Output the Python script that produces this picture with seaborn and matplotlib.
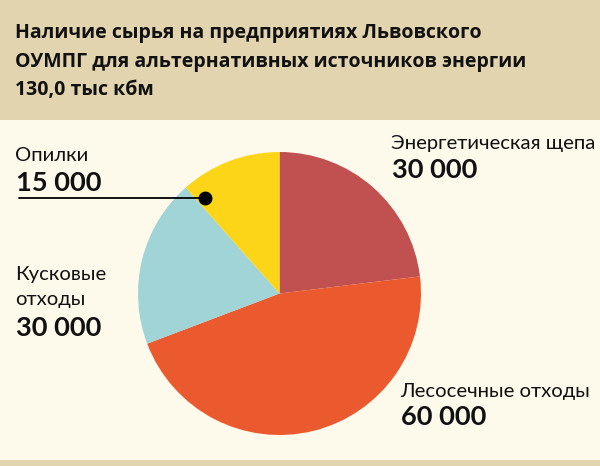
import matplotlib
matplotlib.use("Agg")
import matplotlib.pyplot as plt
import seaborn as sns
from matplotlib.patches import Rectangle

# Data
categories = ["Энергетическая щепа", "Лесосечные отходы", "Кусковые\nотходы", "Опилки"]
values = [30000, 60000, 25000, 15000]  # slice sizes as drawn (total 130 000)
value_labels = ["30 000", "60 000", "30 000", "15 000"]
colors = ["#c05150", "#eb5a2f", "#a0d4d7", "#fdd518"]
title = "Наличие сырья на предприятиях Львовского\nОУМПГ для альтернативных источников энергии\n130,0 тыс кбм"

W, H = 600, 466
sns.set_theme(style="white")
plt.rcParams["font.family"] = ["Lato", "DejaVu Sans"]

fig = plt.figure(figsize=(W / 100, H / 100), dpi=100)
fig.patch.set_facecolor("#fefaeb")
fig.patches.append(Rectangle((0, 1 - 120 / H), 1, 120 / H, transform=fig.transFigure,
                             facecolor="#e2d4ae", edgecolor="none", zorder=0))
fig.patches.append(Rectangle((0, 0), 1, 6 / H, transform=fig.transFigure,
                             facecolor="#e2d4ae", edgecolor="none", zorder=0))

def px(x, y):
    return x / W, 1 - y / H

# pie
cx, cy, r = 279.5, 293.5, 141.5
ax = fig.add_axes([(cx - r) / W, (H - cy - r) / H, 2 * r / W, 2 * r / H])
ax.pie(values, colors=colors, startangle=90, counterclock=False,
       wedgeprops=dict(linewidth=0))
ax.set_xlim(-1, 1)
ax.set_ylim(-1, 1)
ax.set_aspect("equal")
ax.axis("off")

# title
for i, line in enumerate(title.split("\n")):
    fig.text(*px(15, 38 + i * 28.5), line, fontsize=14, fontweight="bold",
             family=["Open Sans", "DejaVu Sans"], color="#111111", ha="left", va="baseline")

label_font = dict(family=["Lato", "DejaVu Sans"], fontweight="normal", fontsize=14.6, color="#111111")
value_font = dict(family=["Lato", "DejaVu Sans"], fontweight="bold", fontsize=19.6, color="#111111")

# label positions (px) : name baseline, value baseline
fig.text(*px(391, 149), categories[0], ha="left", va="baseline", **label_font)
fig.text(*px(392, 178), value_labels[0], ha="left", va="baseline", **value_font)

fig.text(*px(400, 397), categories[1], ha="left", va="baseline", **label_font)
fig.text(*px(401, 425), value_labels[1], ha="left", va="baseline", **value_font)

for i, line in enumerate(categories[2].split("\n")):
    fig.text(*px(15, 280 + i * 25), line, ha="left", va="baseline", **label_font)
fig.text(*px(16, 336), value_labels[2], ha="left", va="baseline", **value_font)

fig.text(*px(15, 161), categories[3], ha="left", va="baseline", **label_font)
fig.text(*px(16, 191), value_labels[3], ha="left", va="baseline", **value_font)

# leader line for Опилки
x0, y0 = px(19, 198)
x1, y1 = px(205, 198)
fig.add_artist(plt.Line2D([x0, x1], [y0, y1], transform=fig.transFigure, color="black", lw=1.3))
fig.add_artist(plt.Line2D([x1], [y1], transform=fig.transFigure, marker="o", markersize=9,
                          color="black", linestyle="none"))

fig.savefig("out.png", dpi=100, facecolor=fig.get_facecolor())
